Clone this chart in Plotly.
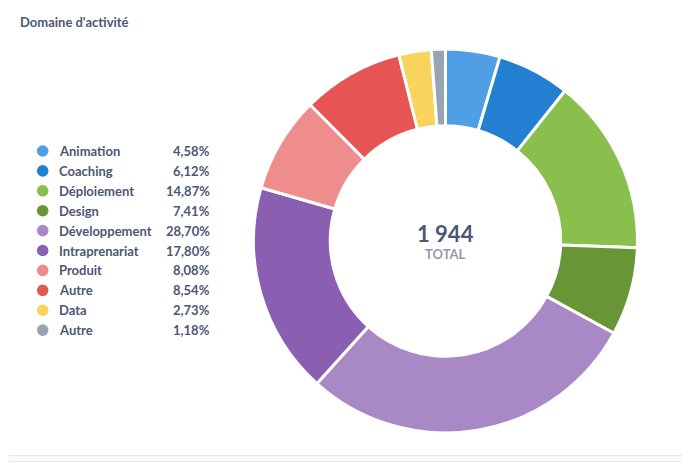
import plotly.graph_objects as go

categories = ["Animation", "Coaching", "Déploiement", "Design", "Développement",
              "Intraprenariat", "Produit", "Autre", "Data", "Autre"]
counts = [89, 119, 289, 144, 558, 346, 157, 166, 53, 23]
colors = ["#509EE3", "#227FD2", "#88BF4D", "#689636", "#A989C5",
          "#8A5EB0", "#EF8C8C", "#E75454", "#F9D45C", "#98A3B3"]

W, H = 690, 465
OFF = 8  # page body margin
total = sum(counts)
TXT = "#4C5773"
FONT = "Lato"

def px(x):
    return (x - OFF) / W

def py(y):
    return (H - (y - OFF)) / H

cx, cy, R = 445.5, 241.0, 192.0

fig = go.Figure()
fig.add_trace(go.Pie(
    labels=[f"{i}" for i in range(len(categories))],
    values=counts,
    hovertext=categories,
    sort=False,
    direction="clockwise",
    rotation=0,
    hole=0.6,
    textinfo="none",
    hoverinfo="text+percent",
    showlegend=False,
    marker=dict(colors=colors, line=dict(color="white", width=3)),
    domain=dict(x=[px(cx - R), px(cx + R)], y=[py(cy + R), py(cy - R)]),
))

# card background with rounded corners
x0, y0, x1, y1, r = 3.5, 4.5, 700, 455.5, 8
path = (f"M {px(x0+r)},{py(y0)} L {px(x1-r)},{py(y0)} "
        f"Q {px(x1)},{py(y0)} {px(x1)},{py(y0+r)} L {px(x1)},{py(y1-r)} "
        f"Q {px(x1)},{py(y1)} {px(x1-r)},{py(y1)} L {px(x0+r)},{py(y1)} "
        f"Q {px(x0)},{py(y1)} {px(x0)},{py(y1-r)} L {px(x0)},{py(y0+r)} "
        f"Q {px(x0)},{py(y0)} {px(x0+r)},{py(y0)} Z")
shapes = [dict(type="path", path=path, xref="paper", yref="paper",
               fillcolor="white", line=dict(color="#E6E8EB", width=1), layer="below")]
# next card top edge
path2 = (f"M {px(x0)},{py(480)} L {px(x0)},{py(461.5+r)} Q {px(x0)},{py(461.5)} {px(x0+r)},{py(461.5)} "
         f"L {px(x1)},{py(461.5)} L {px(x1)},{py(480)} Z")
shapes.append(dict(type="path", path=path2, xref="paper", yref="paper",
                   fillcolor="white", line=dict(color="#E6E8EB", width=1), layer="below"))

annotations = [
    dict(text="Domaine d'activité", x=px(18), y=py(22), xref="paper", yref="paper",
         xanchor="left", yanchor="middle", showarrow=False,
         font=dict(family=FONT, size=13, color=TXT, weight=700)),
    dict(text=f"{total:,}".replace(",", " "), x=px(cx), y=py(234), xref="paper", yref="paper",
         xanchor="center", yanchor="middle", showarrow=False,
         font=dict(family=FONT, size=22, color=TXT, weight=700)),
    dict(text="TOTAL", x=px(cx), y=py(253.5), xref="paper", yref="paper",
         xanchor="center", yanchor="middle", showarrow=False,
         font=dict(family=FONT, size=13, color="#949AAB", weight=700)),
]

row0, step, dr = 151.0, 19.9, 5.8
for i, (cat, v, c) in enumerate(zip(categories, counts, colors)):
    yy = row0 + i * step
    shapes.append(dict(type="circle", xref="paper", yref="paper",
                       x0=px(42.7 - dr), x1=px(42.7 + dr), y0=py(yy + dr), y1=py(yy - dr),
                       fillcolor=c, line=dict(width=0)))
    annotations.append(dict(text=cat, x=px(57), y=py(yy), xref="paper", yref="paper",
                            xanchor="left", yanchor="middle", showarrow=False,
                            font=dict(family=FONT, size=13, color=TXT, weight=700)))
    pct = f"{v / total * 100:.2f}".replace(".", ",") + "%"
    annotations.append(dict(text=pct, x=px(212), y=py(yy), xref="paper", yref="paper",
                            xanchor="right", yanchor="middle", showarrow=False,
                            font=dict(family=FONT, size=13, color=TXT, weight=700)))

fig.update_layout(
    width=W, height=H,
    margin=dict(l=0, r=0, t=0, b=0),
    paper_bgcolor="#F9FAFB",
    plot_bgcolor="white",
    shapes=shapes,
    annotations=annotations,
    font=dict(family=FONT),
)

fig.write_html("out.html", config={"displayModeBar": False})
